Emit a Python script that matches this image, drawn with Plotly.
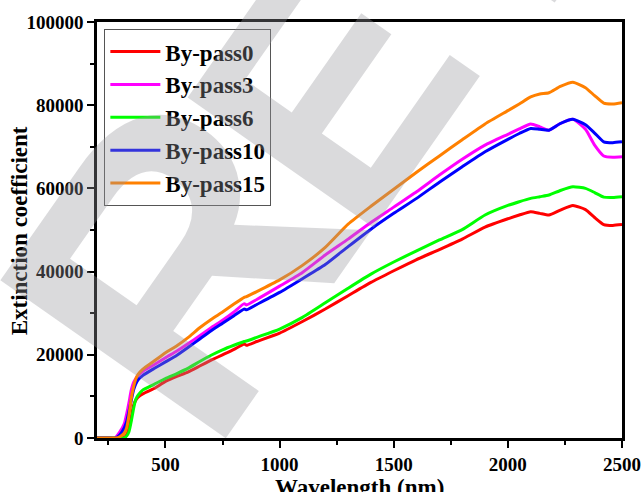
import plotly.graph_objects as go

wavelength = [200, 250, 280, 300, 320, 330, 340, 350, 360, 370, 380, 400, 450, 500, 550,
              600, 650, 700, 750, 800, 845, 855, 900, 1000, 1100, 1200, 1300, 1400, 1500,
              1600, 1700, 1800, 1900, 2000, 2050, 2100, 2140, 2180, 2230, 2285, 2340, 2380,
              2420, 2460, 2500]

bypass0 = [0, 0, 0, 0, 200, 800, 2500, 5000, 7800, 9100, 9800, 10600, 11900, 13600, 14800,
           15900, 17300, 18700, 20000, 21300, 22600, 22300, 23200, 25200, 28000, 31000, 34200,
           37400, 40200, 42900, 45300, 47800, 50700, 52700, 53600, 54400, 54000, 53600, 54800,
           55900, 54900, 53000, 51300, 51100, 51300]

bypass3 = [0, 0, 100, 1500, 3500, 5800, 8500, 11500, 13300, 14300, 15000, 16000, 17600, 19300,
           20900, 22700, 24600, 26500, 28300, 30300, 32300, 32000, 33300, 36500, 39800, 44000,
           47800, 51800, 55500, 59200, 63200, 67000, 70400, 73000, 74300, 75500, 74800, 74000,
           75600, 76600, 74200, 70400, 67800, 67500, 67600]

bypass6 = [0, 0, 0, 0, 0, 500, 1500, 4000, 7000, 9300, 10300, 11500, 12900, 14300, 15500,
           16800, 18400, 19900, 21200, 22300, 23200, 23300, 24200, 26200, 29000, 32500, 36000,
           39400, 42300, 45000, 47600, 50100, 53600, 55900, 56800, 57600, 58000, 58400, 59500,
           60400, 60000, 59000, 57900, 57800, 58000]

bypass10 = [0, 0, 0, 800, 2500, 4000, 6500, 9000, 11500, 13000, 14000, 15000, 16700, 18300,
            19900, 21800, 23800, 25800, 27600, 29400, 31000, 30800, 32100, 35000, 38300, 41700,
            46000, 50200, 54000, 57600, 61500, 65200, 68800, 71800, 73200, 74400, 74200, 74000,
            75600, 76600, 75300, 73300, 71200, 71000, 71200]

bypass15 = [0, 0, 0, 300, 1200, 2500, 5500, 9500, 12300, 14200, 15300, 16500, 18500, 20500,
            22200, 24200, 26500, 28500, 30300, 32200, 33800, 34000, 35200, 38000, 41500, 45800,
            51400, 55700, 59800, 63900, 67800, 71700, 75500, 78700, 80300, 82000, 82700, 83000,
            84500, 85500, 84200, 82300, 80500, 80300, 80600]

series_names = ["By-pass0", "By-pass3", "By-pass6", "By-pass10", "By-pass15"]
series_values = [bypass0, bypass3, bypass6, bypass10, bypass15]
series_colors = ["#FF0000", "#FF00FF", "#00FF00", "#0000FF", "#FF8000"]

x_ticks = [500, 1000, 1500, 2000, 2500]
y_ticks = [0, 20000, 40000, 60000, 80000, 100000]

# watermark letters (paper positions and sizes)
watermark_letters = ["R", "E", "F"]
watermark_x = [0.157, 0.4433, 0.7788]
watermark_y = [0.423, 0.8365, 1.36]
watermark_size = [400, 330, 330]

SERIF = "Liberation Serif, Times New Roman, serif"

fig = go.Figure()
for name, vals, col in zip(series_names, series_values, series_colors):
    fig.add_trace(go.Scatter(x=wavelength, y=vals, mode="lines", name=name,
                             line=dict(color=col, width=3, shape="spline", smoothing=0.5)))

axis_common = dict(showgrid=False, zeroline=False, showline=True, linecolor="black",
                   linewidth=2.5, mirror=True, ticks="outside", ticklen=7, tickwidth=2,
                   tickcolor="black", automargin=False,
                   tickfont=dict(family=SERIF, size=19, color="black", weight="bold"))

fig.update_xaxes(range=[200, 2500], tickvals=x_ticks,
                 minor=dict(dtick=250, tick0=0, ticks="outside", ticklen=4, tickwidth=2,
                            tickcolor="black"),
                 **axis_common)
fig.update_yaxes(range=[0, 100000], tickvals=y_ticks, tickformat="d",
                 minor=dict(dtick=10000, tick0=0, ticks="outside", ticklen=4, tickwidth=2,
                            tickcolor="black"),
                 **axis_common)

annotations = [
    dict(text="Wavelength (nm)", xref="paper", yref="paper", x=0.5, y=-0.083,
         xanchor="center", yanchor="top", showarrow=False,
         font=dict(family=SERIF, size=23, color="black", weight="bold")),
    dict(text="Extinction coefficient", xref="paper", yref="paper", x=-0.146, y=0.4976,
         xanchor="center", yanchor="middle", textangle=-90, showarrow=False,
         font=dict(family=SERIF, size=23, color="black", weight="bold")),
]
for ch, wx, wy, ws in zip(watermark_letters, watermark_x, watermark_y, watermark_size):
    annotations.append(dict(text=ch, xref="paper", yref="paper", x=wx, y=wy,
                            xanchor="center", yanchor="middle", textangle=-55,
                            showarrow=False,
                            font=dict(family="Liberation Sans, Arial, sans-serif", size=ws,
                                      color="rgba(150,150,155,0.35)", weight="bold")))

fig.update_layout(
    width=643, height=492,
    margin=dict(l=97, r=21, t=22, b=54),
    plot_bgcolor="white", paper_bgcolor="white",
    showlegend=True,
    legend=dict(x=0.014, y=0.983, xanchor="left", yanchor="top",
                bgcolor="rgba(255,255,255,0)", bordercolor="#555555", borderwidth=1,
                font=dict(family=SERIF, size=23, color="black", weight="bold"),
                tracegroupgap=0, itemwidth=50),
    annotations=annotations,
)

fig.write_html("out.html")
